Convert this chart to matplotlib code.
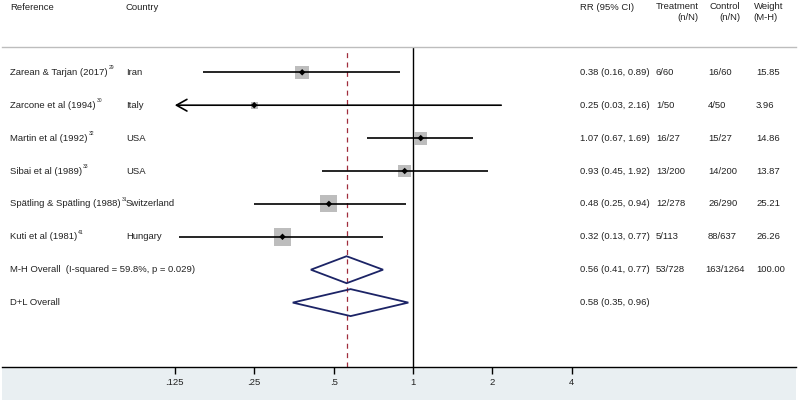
import numpy as np
import matplotlib
matplotlib.use("Agg")
import matplotlib.pyplot as plt
from matplotlib import transforms
from matplotlib.patches import Polygon, Rectangle

plt.rcParams['font.family'] = ['Liberation Sans', 'DejaVu Sans']

# ---------------- data ----------------
refs = ["Zarean & Tarjan (2017)", "Zarcone et al (1994)", "Martin et al (1992)",
        "Sibai et al (1989)", "Spätling & Spätling (1988)", "Kuti et al (1981)"]
sups = ["29", "30", "32", "33", "31", "41"]
countries = ["Iran", "Italy", "USA", "USA", "Switzerland", "Hungary"]
rr = [0.38, 0.25, 1.07, 0.93, 0.48, 0.32]
lo = [0.16, 0.03, 0.67, 0.45, 0.25, 0.13]
hi = [0.89, 2.16, 1.69, 1.92, 0.94, 0.77]
treat = ["6/60", "1/50", "16/27", "13/200", "12/278", "5/113"]
control = ["16/60", "4/50", "15/27", "14/200", "26/290", "88/637"]
weights = [15.85, 3.96, 14.86, 13.87, 25.21, 26.26]

overall_labels = ["M-H Overall  (I-squared = 59.8%, p = 0.029)", "D+L Overall"]
overall_rr = [0.56, 0.58]
overall_lo = [0.41, 0.35]
overall_hi = [0.77, 0.96]
overall_treat = ["53/728", ""]
overall_control = ["163/1264", ""]
overall_weight = ["100.00", ""]

tick_vals = [0.125, 0.25, 0.5, 1, 2, 4]
tick_labels = [".125", ".25", ".5", "1", "2", "4"]

# ---------------- layout ----------------
W, H = 798, 404
fig = plt.figure(figsize=(W / 100, H / 100), dpi=100)
fig.patch.set_facecolor("white")

ax_l, ax_r, ax_t, ax_b = 2, 796, 47, 367
ax = fig.add_axes([ax_l / W, (H - ax_b) / H, (ax_r - ax_l) / W, (ax_b - ax_t) / H])
ax.set_facecolor("none")
ax.set_zorder(2)

px_per_doubling = 79.4
x_one = 413
ax.set_xscale("log", base=2)
ax.set_xlim(2 ** ((ax_l - x_one) / px_per_doubling), 2 ** ((ax_r - x_one) / px_per_doubling))

row0_px, row_step = 72.3, 32.9
ax.set_ylim(1 + (ax_b - row0_px) / row_step, 1 - (row0_px - ax_t) / row_step)

# bottom shaded strip
strip = Rectangle((ax_l / W, (H - 400) / H), (ax_r - ax_l) / W, (400 - ax_b) / H,
                  transform=fig.transFigure, facecolor="#e9eff2", edgecolor="none", zorder=-5)
fig.patches.append(strip)

for s in ["left", "right"]:
    ax.spines[s].set_visible(False)
ax.spines["top"].set_color("#bdbdbd")
ax.spines["top"].set_linewidth(1.0)
ax.spines["bottom"].set_color("black")
ax.spines["bottom"].set_linewidth(1.0)
ax.set_yticks([])
ax.set_xticks(tick_vals)
ax.set_xticklabels(tick_labels)
ax.xaxis.set_minor_locator(matplotlib.ticker.NullLocator())
ax.tick_params(axis="x", direction="out", length=5, width=1, labelsize=6.8, pad=3,
               colors="black", labelcolor="#222222")

txt_color = "#222222"
fs = 6.8
tr = transforms.blended_transform_factory(fig.transFigure, ax.transData)

def fx(px):
    return px / W

# headers
fig.text(fx(10), 1 - 7 / H, "Reference", fontsize=fs, color=txt_color, va="center", ha="left")
fig.text(fx(126), 1 - 7 / H, "Country", fontsize=fs, color=txt_color, va="center", ha="left")
fig.text(fx(580), 1 - 7 / H, "RR (95% CI)", fontsize=fs, color=txt_color, va="center", ha="left")
fig.text(fx(699), 1 - 12 / H, "Treatment\n(n/N)", fontsize=fs, color=txt_color, va="center",
         ha="right", multialignment="right", linespacing=1.25)
fig.text(fx(740), 1 - 12 / H, "Control\n(n/N)", fontsize=fs, color=txt_color, va="center",
         ha="right", multialignment="right", linespacing=1.25)
fig.text(fx(783), 1 - 12 / H, "Weight\n(M-H)", fontsize=fs, color=txt_color, va="center",
         ha="right", multialignment="left", linespacing=1.25)

# reference lines
ax.axvline(1, color="black", lw=1.0, zorder=2)
ax.axvline(overall_rr[0], color="#a02c3c", lw=0.9, linestyle=(0, (4, 3.5)), zorder=1,
           ymin=0, ymax=0.985)

xmin_arrow = tick_vals[0]
rows = np.arange(1, len(refs) + 1)
for i, y in enumerate(rows):
    t = ax.text(fx(10), y, refs[i], transform=tr, fontsize=fs, color=txt_color, va="center", ha="left")
    ax.annotate(sups[i], xy=(1, 0.75), xycoords=t, fontsize=3.6, color=txt_color,
                va="bottom", ha="left", xytext=(0.8, 0), textcoords="offset points")
    ax.text(fx(126), y, countries[i], transform=tr, fontsize=fs, color=txt_color, va="center")
    ax.text(fx(580), y, f"{rr[i]:.2f} ({lo[i]:.2f}, {hi[i]:.2f})", transform=tr, fontsize=fs,
            color=txt_color, va="center")
    ax.text(fx(656), y, treat[i], transform=tr, fontsize=fs, color=txt_color, va="center")
    ax.text(fx(708), y, control[i], transform=tr, fontsize=fs, color=txt_color, va="center")
    ax.text(fx(756), y, f"{weights[i]:.2f}", transform=tr, fontsize=fs, color=txt_color, va="center")

    # CI
    if lo[i] < xmin_arrow:
        ax.annotate("", xy=(xmin_arrow, y), xytext=(hi[i], y),
                    arrowprops=dict(arrowstyle="->,head_length=0.75,head_width=0.42",
                                    lw=1.2, color="black", shrinkA=0, shrinkB=0), zorder=3)
    else:
        ax.plot([lo[i], hi[i]], [y, y], color="black", lw=1.2, zorder=3, solid_capstyle="butt")

# weight squares
side_pt = 3.4 * np.sqrt(np.array(weights)) * 0.72
ax.scatter(rr, rows, marker="s", s=side_pt ** 2, color="#bdbdbd", edgecolors="none", zorder=2.5)
ax.scatter(rr, rows, marker="D", s=11, color="black", edgecolors="none", zorder=4)

# overall diamonds
half_h = 0.41
for j in range(2):
    y = len(refs) + 1 + j
    ax.text(fx(10), y, overall_labels[j], transform=tr, fontsize=fs, color=txt_color, va="center")
    ax.text(fx(580), y, f"{overall_rr[j]:.2f} ({overall_lo[j]:.2f}, {overall_hi[j]:.2f})",
            transform=tr, fontsize=fs, color=txt_color, va="center")
    ax.text(fx(656), y, overall_treat[j], transform=tr, fontsize=fs, color=txt_color, va="center")
    ax.text(fx(705), y, overall_control[j], transform=tr, fontsize=fs, color=txt_color, va="center")
    ax.text(fx(756), y, overall_weight[j], transform=tr, fontsize=fs, color=txt_color, va="center")
    poly = Polygon([(overall_lo[j], y), (overall_rr[j], y - half_h), (overall_hi[j], y),
                    (overall_rr[j], y + half_h)], closed=True, facecolor="none",
                   edgecolor="#1c2466", lw=1.3, zorder=3)
    ax.add_patch(poly)

fig.savefig("out.png", dpi=100, facecolor="white")
